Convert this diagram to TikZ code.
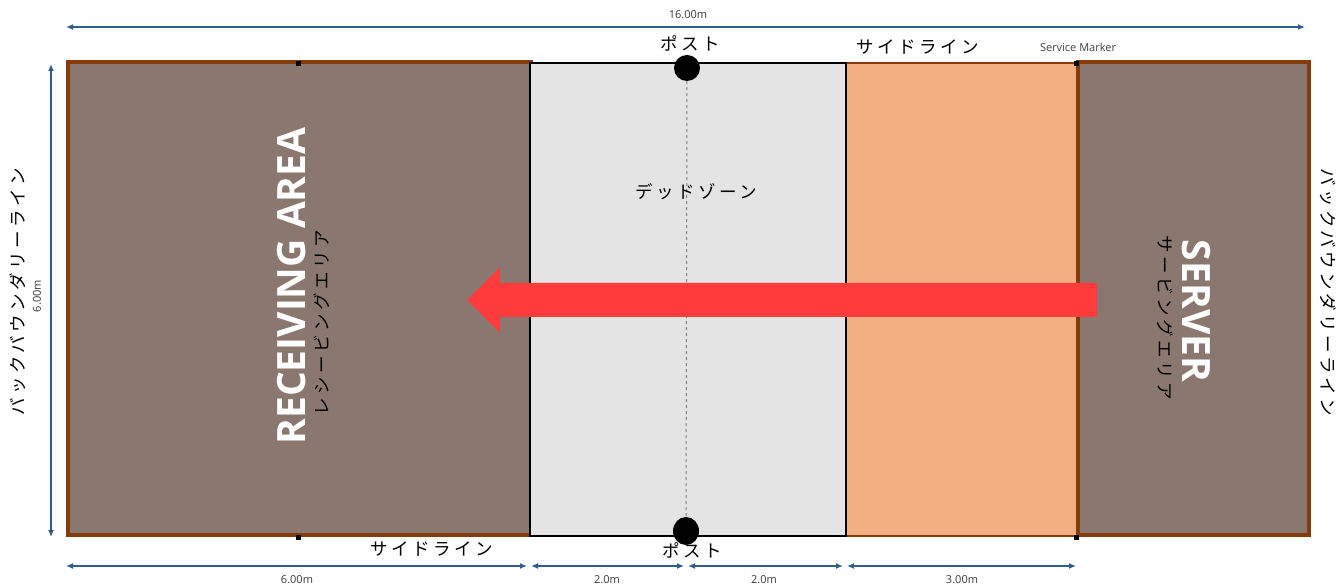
\documentclass[tikz,border=0pt]{standalone}
\usepackage{fontspec}
\setmainfont{Open Sans}
\newfontfamily\jp[LetterSpace=20]{Noto Sans CJK JP}
\usetikzlibrary{arrows.meta,shapes.geometric}
\definecolor{courtbrown}{HTML}{8A7770}
\definecolor{edgebrown}{HTML}{843C0C}
\definecolor{deadgray}{HTML}{E4E4E4}
\definecolor{serveorange}{HTML}{F2AF80}
\definecolor{dimblue}{HTML}{2E5E8C}
\definecolor{arrowred}{HTML}{FF3B3B}
\definecolor{labelgray}{HTML}{3A3A3A}
\tikzset{
  zone/.style={rectangle, inner sep=0, anchor=south west, minimum height=473},
  postdot/.style={circle, fill=black, inner sep=0, minimum size=26},
  markerbox/.style={rectangle, fill=black, inner sep=0, minimum size=5},
  dimline/.style={draw=dimblue, line width=1.5, {Latex[length=7,width=6]}-{Latex[length=7,width=6]}},
  dimlabel/.style={font=\fontsize{11}{13}\selectfont, text=labelgray, inner sep=1},
  jptext/.style={font=\jp\fontsize{17.5}{20}\selectfont, text=black, inner sep=0},
  bigtitle/.style={font=\bfseries\fontsize{39}{42}\selectfont, text=white, inner sep=0},
}
\begin{document}
\begin{tikzpicture}[x=1pt,y=1pt]
\useasboundingbox (0,0) rectangle (1339,587);
% zones
\node[zone, fill=courtbrown, draw=edgebrown, line width=4, minimum width=463] (recv) at (66,50) {};
\node[zone, fill=courtbrown, draw=edgebrown, line width=4, minimum width=231] (serve) at (1076,50) {};
\node[zone, fill=serveorange, draw=edgebrown, line width=2, minimum width=231] (orange) at (845,50) {};
\node[zone, fill=deadgray, draw=black, line width=2, minimum width=316] (dead) at (529,50) {};
% net line and posts
\node[postdot] (postT) at (687,519) {};
\node[postdot, minimum width=26, minimum height=28, shape=ellipse] (postB) at (686,56) {};
\draw[gray, dashed, line width=1] (postT) -- (postB);
% service markers
\node[markerbox] (mk1) at (298,523) {};
\node[markerbox] (mk2) at (1076,523) {};
\node[markerbox] (mk3) at (298,50) {};
\node[markerbox] (mk4) at (1076,50) {};
% red arrow
\fill[arrowred] (1097,270) -- (500,270) -- (500,254) -- (467,287) -- (500,320) -- (500,304) -- (1097,304) -- cycle;
% dimension lines
\coordinate (tA) at (66,560);
\coordinate (tB) at (1305,560);
\draw[dimline] (tA) -- (tB);
\node[dimlabel] (l16) at (688,572) {16.00m};
\coordinate (vA) at (51,523);
\coordinate (vB) at (51,50);
\draw[dimline] (vA) -- (vB);
\node[dimlabel, rotate=90] (l6v) at (37,291) {6.00m};
\coordinate (b1) at (66,21);
\coordinate (b2) at (527,21);
\coordinate (b3) at (531,21);
\coordinate (b4) at (684,21);
\coordinate (b5) at (688,21);
\coordinate (b6) at (843,21);
\coordinate (b7) at (847,21);
\coordinate (b8) at (1076,21);
\draw[dimline] (b1) -- (b2);
\draw[dimline] (b3) -- (b4);
\draw[dimline] (b5) -- (b6);
\draw[dimline] (b7) -- (b8);
\node[dimlabel] (l6b) at (297,7) {6.00m};
\node[dimlabel] (l2a) at (607,7) {2.0m};
\node[dimlabel] (l2b) at (764,7) {2.0m};
\node[dimlabel] (l3) at (962,7) {3.00m};
% labels
\node[jptext] (postTl) at (690,544) {ポスト};
\node[jptext] (sideT) at (918,540) {サイドライン};
\node[dimlabel, text=black!75] (smk) at (1078,540) {Service Marker};
\node[jptext] (sideB) at (432,38) {サイドライン};
\node[jptext] (postBl) at (692,37) {ポスト};
\node[jptext] (deadl) at (696,395) {デッドゾーン};
\node[jptext, rotate=90] (backL) at (18,295) {バックバウンダリーライン};
\node[jptext, rotate=-90] (backR) at (1328,295) {バックバウンダリーライン};
\node[bigtitle, rotate=90] (recvT) at (292,301) {RECEIVING AREA};
\node[jptext, rotate=90] (recvJ) at (322,264) {レシービングエリア};
\node[bigtitle, rotate=-90] (servT) at (1196,276) {SERVER};
\node[jptext, rotate=-90] (servJ) at (1165,269) {サービングエリア};
\end{tikzpicture}
\end{document}
